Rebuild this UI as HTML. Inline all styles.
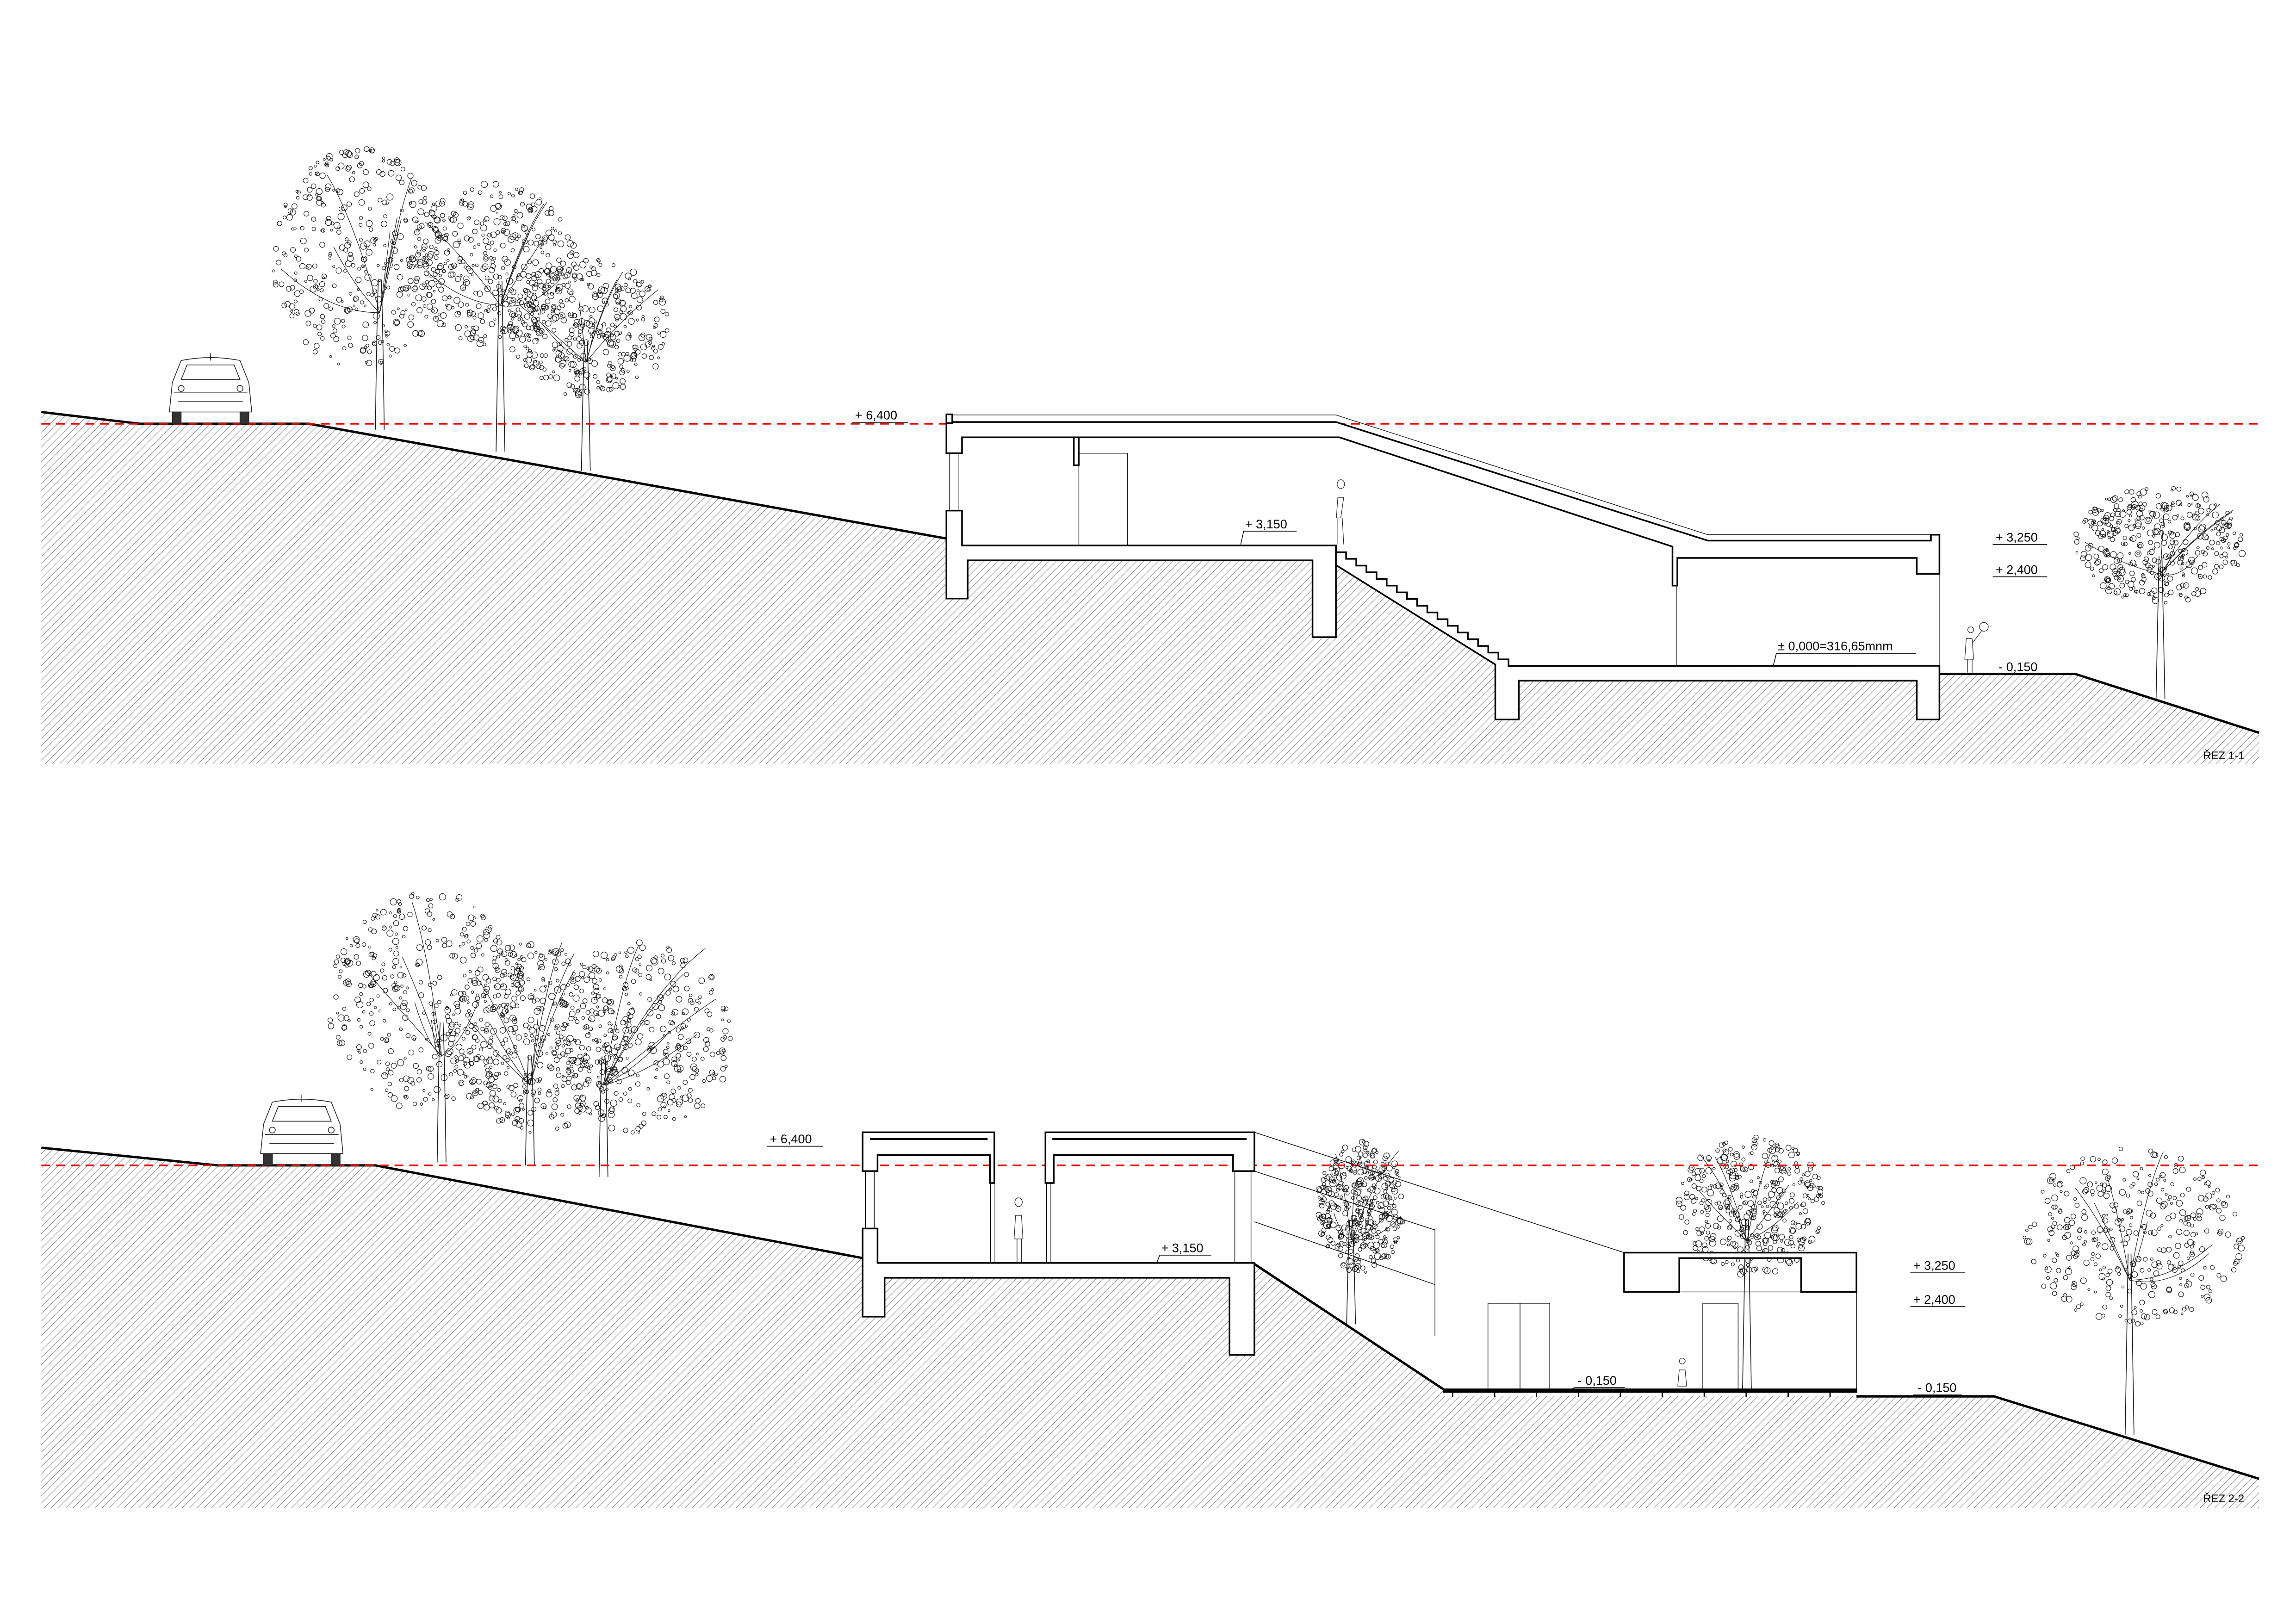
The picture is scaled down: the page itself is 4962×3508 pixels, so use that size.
<!DOCTYPE html>
<html><head><meta charset="utf-8"><style>
html,body{margin:0;padding:0;background:#fff;}
svg{display:block;}
text{font-family:"Liberation Sans",sans-serif;font-size:8.5px;fill:#000;}
</style></head><body>
<svg id="s" width="4962" height="3508" viewBox="0 0 1560 1103" xmlns="http://www.w3.org/2000/svg">
<defs>
<pattern id="h" width="3.5" height="3.5" patternUnits="userSpaceOnUse" patternTransform="rotate(45)">
<line x1="0" y1="0" x2="0" y2="3.5" stroke="#808080" stroke-width="0.65"/>
</pattern>
</defs>
<rect width="1560" height="1103" fill="#fff"/>
<g id="trees" fill="none" stroke="#111" stroke-width="0.35"></g>

<!-- ===== SECTION 1 ===== -->
<path d="M28,280 L95,288 L210,288 L643,366 L643,381 L907.7,381 L1016,451.6 L1016,462.6 L1318,462.6 L1318,458 L1410,458 L1535,498 L1535,519 L28,519 Z" fill="url(#h)"/>
<polyline points="28,280 95,288 210,288 643,366" fill="none" stroke="#000" stroke-width="1.6"/>
<polyline points="1318,458 1410,458 1535,498" fill="none" stroke="#000" stroke-width="1.6"/>
<line x1="28" y1="288" x2="1535" y2="288" stroke="#e00" stroke-width="1.1" stroke-dasharray="6,4"/>

<g fill="#fff" stroke="#000" stroke-width="1.1">
<path d="M643,347 L653.6,347 L653.6,370.7 L907.7,370.7 L907.7,433 L891.8,433 L891.8,380.8 L657.5,380.8 L657.5,406.8 L643,406.8 Z"/>
<path d="M643,286.8 L907.7,286.8 L1160.4,367.4 L1312,367.4 L1312,363.4 L1317.8,363.4 L1317.8,390 L1302.4,390 L1302.4,379.2 L1139.7,379.2 L1139.7,398 L1136.4,398 L1136.4,371.5 L910,297.2 L653.6,297.2 L653.6,308 L643,308 Z"/>
<rect x="643" y="281.6" width="4" height="6"/>
<rect x="729.6" y="297.2" width="3.4" height="19"/>
<path id="stair1" d="M1016,451.6 L907.7,384 L907.7,370.7 Z"/>
</g>
<g fill="none" stroke="#000" stroke-width="0.4">
<polyline points="647,282 907.7,282 1160.4,363.4 1312,363.4"/>
<line x1="645" y1="308" x2="645" y2="347"/><line x1="651" y1="308" x2="651" y2="347"/>
<line x1="733" y1="316" x2="733" y2="371"/><polyline points="733,308 766,308 766,371"/>
<line x1="1139" y1="398" x2="1139" y2="452"/><line x1="1318" y1="390" x2="1318" y2="452"/>
</g>

<!-- ===== SECTION 2 ===== -->
<path d="M28,780 L148,792 L255,792 L586,855 L586,868.4 L852.3,868.4 L852.3,859 L980.8,944.2 L980.8,948.8 L1261.4,948.8 L1270,949 L1355,949 L1535,1005 L1535,1025 L28,1025 Z" fill="url(#h)"/>
<polyline points="28,780 148,792 255,792 586,855" fill="none" stroke="#000" stroke-width="1.6"/>
<polyline points="852.3,859 980.8,944.2" fill="none" stroke="#000" stroke-width="1.6"/>
<polyline points="1261.4,949 1355,949 1535,1005" fill="none" stroke="#000" stroke-width="1.6"/>
<line x1="28" y1="792" x2="1535" y2="792" stroke="#e00" stroke-width="1.1" stroke-dasharray="6,4"/>

<g fill="#fff" stroke="#000" stroke-width="1.1">
<path d="M586.1,834.9 L596.2,834.9 L596.2,858.3 L852.3,858.3 L852.3,920.8 L835.4,920.8 L835.4,868.4 L601,868.4 L601,894.8 L586.1,894.8 Z"/>
<path d="M586.1,769.5 L675.6,769.5 L675.6,804 L672.7,804 L672.7,785 L596.2,785 L596.2,795.9 L586.1,795.9 Z"/>
<path d="M710.3,769.5 L852.3,769.5 L852.3,795.9 L837.8,795.9 L837.8,785 L716,785 L716,804 L710.3,804 Z"/>
<path d="M1103.5,851.3 L1261.4,851.3 L1261.4,878 L1223.8,878 L1223.8,855 L1141,855 L1141,878 L1103.5,878 Z"/>
<rect x="980.8" y="944.2" width="280.6" height="1.8" fill="#000"/>
</g>
<g fill="none" stroke="#000" stroke-width="1.4">
<line x1="591" y1="774.1" x2="671" y2="774.1"/><line x1="715" y1="774.1" x2="847" y2="774.1"/>
<line x1="596" y1="785" x2="672" y2="785"/><line x1="716" y1="785" x2="837" y2="785"/>
</g>
<g fill="none" stroke="#000" stroke-width="0.45">
<line x1="852.3" y1="769.5" x2="1103.5" y2="851.3"/>
<line x1="852.3" y1="795.9" x2="975" y2="835.9"/>
<line x1="852.3" y1="830.3" x2="975" y2="873"/>
<line x1="975" y1="835" x2="975" y2="908"/>
<line x1="588" y1="795.9" x2="588" y2="834.9"/><line x1="594" y1="795.9" x2="594" y2="834.9"/>
<line x1="673" y1="804" x2="673" y2="858"/><line x1="676" y1="804" x2="676" y2="858"/>
<line x1="711" y1="804" x2="711" y2="858"/><line x1="714" y1="804" x2="714" y2="858"/>
<line x1="839" y1="795.9" x2="839" y2="858"/><line x1="850" y1="795.9" x2="850" y2="858"/>
<line x1="1261.4" y1="878" x2="1261.4" y2="944"/>
<line x1="1141" y1="878" x2="1223.8" y2="878"/>
<rect x="1011" y="885.7" width="42" height="58.5"/><line x1="1032.8" y1="885.7" x2="1032.8" y2="944.2"/>
<rect x="1157" y="885.7" width="24" height="58.5"/>
</g>
<g id="ticks" stroke="#000" stroke-width="0.9"></g>

<!-- labels -->
<g stroke="#000" stroke-width="0.5" fill="none">
<line x1="579" y1="287" x2="617" y2="287"/>
<polyline points="843,370 845,361 881,361"/>
<line x1="1354" y1="370" x2="1391" y2="370"/><line x1="1354" y1="392" x2="1391" y2="392"/>
<polyline points="1205,452 1207,444 1302,444"/>
<line x1="1356" y1="458" x2="1389" y2="458"/>
<line x1="521" y1="779" x2="559" y2="779"/>
<polyline points="786,858 788,853 823,853"/>
<line x1="1298" y1="865" x2="1335" y2="865"/><line x1="1298" y1="888" x2="1335" y2="888"/>
<polyline points="1068,944 1070,943 1104,943"/>
<line x1="1300" y1="948" x2="1333" y2="948"/>
</g>
<text x="581" y="285">+ 6,400</text>
<text x="846" y="359">+ 3,150</text>
<text x="1356" y="368">+ 3,250</text>
<text x="1356" y="390">+ 2,400</text>
<text x="1208" y="442">± 0,000=316,65mnm</text>
<text x="1358" y="456">- 0,150</text>
<text x="1497" y="516" style="font-size:7.5px">ŘEZ 1-1</text>
<text x="523" y="777">+ 6,400</text>
<text x="789" y="851">+ 3,150</text>
<text x="1300" y="863">+ 3,250</text>
<text x="1300" y="886">+ 2,400</text>
<text x="1072" y="941">- 0,150</text>
<text x="1303" y="946">- 0,150</text>
<text x="1497" y="1021" style="font-size:7.5px">ŘEZ 2-2</text>

<!-- cars -->
<g fill="#fff" stroke="#222" stroke-width="0.5">
<g transform="translate(113,240)">
<path d="M4,20 L10,5 Q30,1 50,5 L56,20 L58,40 L2,40 Z"/>
<rect x="4" y="40" width="6" height="8" fill="#333"/><rect x="50" y="40" width="6" height="8" fill="#333"/>
<path d="M10,18 L14,8 L46,8 L50,18 Z"/><line x1="30" y1="0" x2="30" y2="5"/>
<line x1="5" y1="27" x2="55" y2="27"/><line x1="8" y1="33" x2="52" y2="33"/>
<circle cx="10" cy="24" r="2"/><circle cx="50" cy="24" r="2"/>
</g>
<g transform="translate(175,744)">
<path d="M4,20 L10,5 Q30,1 50,5 L56,20 L58,40 L2,40 Z"/>
<rect x="4" y="40" width="6" height="8" fill="#333"/><rect x="50" y="40" width="6" height="8" fill="#333"/>
<path d="M10,18 L14,8 L46,8 L50,18 Z"/><line x1="30" y1="0" x2="30" y2="5"/>
<line x1="5" y1="27" x2="55" y2="27"/><line x1="8" y1="33" x2="52" y2="33"/>
<circle cx="10" cy="24" r="2"/><circle cx="50" cy="24" r="2"/>
</g>
</g>
<!-- people -->
<g fill="none" stroke="#222" stroke-width="0.4">
<path d="M911,332 a2.5,3 0 1 1 0.1,0 M909,338 L908,352 L911,352 L913,338 Z M909,352 L909,370 M912,352 L913,370"/>
<path d="M1339,430 a2,2 0 1 1 0.1,0 M1336,434 L1335,448 L1341,448 L1340,434 Z M1337,448 L1337,457 M1340,448 L1340,457 M1341,436 L1347,428"/><circle cx="1348" cy="426" r="3"/>
<path d="M692,820 a2.5,3 0 1 1 0.1,0 M690,826 L689,842 L695,842 L694,826 Z M691,842 L691,858 M694,842 L694,858"/>
<path d="M1143,927 a2,2 0 1 1 0.1,0 M1141,931 L1140,942 L1146,942 L1145,931 Z"/>
</g>
</svg>
<script>
(function(){
var NS="http://www.w3.org/2000/svg";
var g=document.getElementById('trees');
var seed=7;function r(){seed=(seed*16807)%2147483647;return seed/2147483647;}
function el(t,a){var e=document.createElementNS(NS,t);for(var k in a)e.setAttribute(k,a[k]);g.appendChild(e);return e;}
function tree(x,base,top,cx,w,h){
 el('path',{d:'M'+(x-3)+','+base+' Q'+(x-2)+','+(base-(base-top)*0.4)+' '+(x-1)+','+(top+h*0.6)+' M'+(x+3)+','+base+' Q'+(x+2)+','+(base-(base-top)*0.4)+' '+(x+1)+','+(top+h*0.6),'stroke-width':'0.5'});
 for(var i=0;i<7;i++){var bx=cx+(r()-0.5)*w*0.9,by=top+r()*h*0.6;
  el('path',{d:'M'+x+','+(top+h*0.75)+' Q'+((x+bx)/2)+','+(by+h*0.2)+' '+bx+','+by,'stroke-width':'0.35'});}
 for(var j=0;j<360;j++){var a=r()*2*Math.PI,rr=Math.sqrt(r());
  var lx=cx+Math.cos(a)*rr*w/2,ly=top+h/2+Math.sin(a)*rr*h/2;
  el('circle',{cx:lx.toFixed(1),cy:ly.toFixed(1),r:(0.7+r()*1.5).toFixed(1)});}
}
tree(258,292,100,245,120,150);
tree(340,307,125,335,115,110);
tree(398,320,175,400,110,95);
tree(1468,475,330,1467,115,80);
tree(300,790,605,290,135,150);
tree(360,792,640,365,120,130);
tree(410,800,640,435,125,130);
tree(1447,975,780,1450,150,120);
tree(1187,945,772,1190,100,95);
tree(918,900,775,925,60,90);
var t=document.getElementById('ticks');
for(var x=987;x<=1261;x+=28.5){var l=document.createElementNS(NS,'line');l.setAttribute('x1',x);l.setAttribute('x2',x);l.setAttribute('y1',945);l.setAttribute('y2',949.5);t.appendChild(l);}
var s=document.getElementById('stair1');var d='M1016,451.6 L907.7,384 L907.7,370.7';var px=907.7,py=370.7;
for(var k=0;k<18;k++){py+=4.55;d+=' L'+px.toFixed(1)+','+py.toFixed(1);px+=6.9;d+=' L'+px.toFixed(1)+','+py.toFixed(1);}
d+=' L1317.8,452.5 L1317.8,489 L1302.4,489 L1302.4,462.6 L1032,462.6 L1032,489 L1016,489 Z';
s.setAttribute('d',d);
})();
</script>
</body></html>
